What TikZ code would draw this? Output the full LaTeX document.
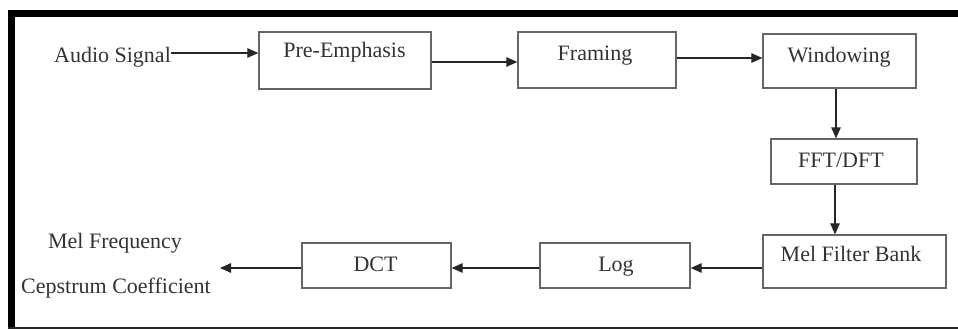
\documentclass[tikz,border=0pt]{standalone}
\usepackage{fontspec}
\setmainfont{Liberation Serif}
\usetikzlibrary{arrows.meta}
\begin{document}
\begin{tikzpicture}[x=1pt,y=-1pt,
  box/.style={draw=black!60, line width=1.3pt, inner sep=0pt, fill=white},
  txt/.style={font=\fontsize{22}{26}\selectfont, text=black!80, inner sep=0pt, anchor=base},
  arr/.style={draw=black!85, line width=1.1pt, -{Triangle[length=11pt,width=9.5pt]}}]
\useasboundingbox (0,0) rectangle (958,329);
% frame
\fill[black] (9,10) rectangle (958,17);
\fill[black] (8,10) rectangle (15,329);
\fill[black!85] (8,327) rectangle (958,329);
% boxes
\node[box, minimum width=172pt, minimum height=57pt] (pre)  at (345,60.5) {};
\node[box, minimum width=158pt, minimum height=56pt] (fram) at (597,60) {};
\node[box, minimum width=153pt, minimum height=54pt] (win)  at (839.5,61) {};
\node[box, minimum width=146pt, minimum height=45pt] (fft)  at (844,161.5) {};
\node[box, minimum width=183pt, minimum height=53pt] (mel)  at (854.5,261.5) {};
\node[box, minimum width=150pt, minimum height=45pt] (log)  at (615,265.5) {};
\node[box, minimum width=149pt, minimum height=45pt] (dct)  at (376.5,265.5) {};
% texts
\node[txt] (audio) at (112.5,63) {Audio Signal};
\node[txt] (preT)  at (344.5,58) {Pre-Emphasis};
\node[txt] (framT) at (595,60) {Framing};
\node[txt] (winT)  at (839,63) {Windowing};
\node[txt] (fftT)  at (841,167) {FFT/DFT};
\node[txt] (melT)  at (851,261) {Mel Filter Bank};
\node[txt] (logT)  at (616,271) {Log};
\node[txt] (dctT)  at (375.5,271) {DCT};
\node[txt] (mfcc1) at (115,248) {Mel Frequency};
\node[txt] (mfcc2) at (116,293) {Cepstrum Coefficient};
\coordinate (out) at (220,268);
% connectors
\draw[arr] (audio.east |- 0,53) -- (pre.west |- 0,53);
\draw[arr] (pre.east |- 0,62) -- (fram.west |- 0,62);
\draw[arr] (fram.east |- 0,58) -- (win.west |- 0,58);
\draw[arr] (win.south -| 836,0) -- (fft.north -| 836,0);
\draw[arr] (fft.south -| 835,0) -- (mel.north -| 835,0);
\draw[arr] (mel.west |- 0,268) -- (log.east |- 0,268);
\draw[arr] (log.west |- 0,268) -- (dct.east |- 0,268);
\draw[arr] (dct.west |- 0,268) -- (out);
\end{tikzpicture}
\end{document}
